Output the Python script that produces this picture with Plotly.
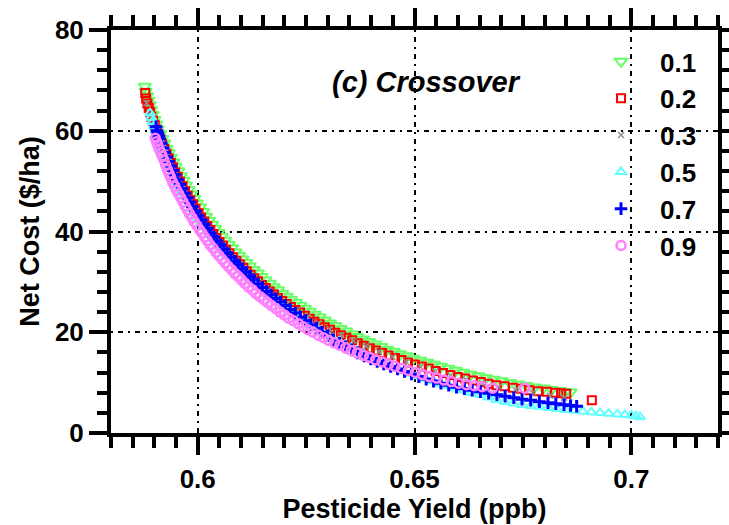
import plotly.graph_objects as go

# ---- data ----
series_names = ["0.1", "0.2", "0.3", "0.5", "0.7", "0.9"]

x_01 = [0.5878, 0.5880, 0.5883, 0.5886, 0.5889, 0.5892, 0.5896, 0.5900, 0.5904, 0.5908,
        0.5913, 0.5918, 0.5923, 0.5928, 0.5933, 0.5938, 0.5944, 0.5949, 0.5955, 0.5961,
        0.5967, 0.5973, 0.5979, 0.5985, 0.5992, 0.5998, 0.6005, 0.6012, 0.6019, 0.6026,
        0.6033, 0.6040, 0.6048, 0.6055, 0.6063, 0.6071, 0.6079, 0.6087, 0.6095, 0.6103,
        0.6112, 0.6120, 0.6129, 0.6138, 0.6147, 0.6156, 0.6166, 0.6175, 0.6185, 0.6195,
        0.6205, 0.6215, 0.6226, 0.6236, 0.6247, 0.6258, 0.6270, 0.6281, 0.6293, 0.6305,
        0.6317, 0.6329, 0.6342, 0.6355, 0.6368, 0.6381, 0.6395, 0.6409, 0.6423, 0.6437,
        0.6452, 0.6467, 0.6482, 0.6497, 0.6513, 0.6529, 0.6545, 0.6561, 0.6578, 0.6595,
        0.6612, 0.6629, 0.6647, 0.6665, 0.6683, 0.6701, 0.6720, 0.6739, 0.6758, 0.6777,
        0.6797, 0.6816, 0.6836, 0.6848, 0.6860]
y_01 = [68.8, 67.8, 66.9, 66.0, 65.1, 64.1, 63.2, 62.2, 61.3, 60.3,
        59.4, 58.4, 57.5, 56.5, 55.6, 54.7, 53.8, 52.9, 52.0, 51.0,
        50.1, 49.2, 48.3, 47.4, 46.5, 45.6, 44.8, 43.9, 43.0, 42.2,
        41.4, 40.6, 39.8, 39.0, 38.2, 37.4, 36.7, 35.9, 35.2, 34.5,
        33.8, 33.1, 32.4, 31.7, 31.0, 30.3, 29.7, 29.0, 28.4, 27.7,
        27.1, 26.5, 25.9, 25.3, 24.7, 24.1, 23.5, 23.0, 22.4, 21.8,
        21.3, 20.7, 20.2, 19.6, 19.1, 18.6, 18.1, 17.6, 17.1, 16.6,
        16.2, 15.7, 15.3, 14.8, 14.4, 14.0, 13.6, 13.2, 12.8, 12.4,
        12.0, 11.6, 11.3, 10.9, 10.6, 10.3, 10.0, 9.7, 9.4, 9.1,
        8.9, 8.6, 8.4, 8.2, 8.1]

x_02 = [0.5879, 0.5881, 0.5884, 0.5887, 0.5890, 0.5893, 0.5897, 0.5901, 0.5905, 0.5909,
        0.5914, 0.5918, 0.5923, 0.5928, 0.5933, 0.5938, 0.5943, 0.5948, 0.5954, 0.5959,
        0.5965, 0.5971, 0.5977, 0.5983, 0.5989, 0.5995, 0.6002, 0.6008, 0.6015, 0.6022,
        0.6029, 0.6036, 0.6043, 0.6050, 0.6058, 0.6065, 0.6073, 0.6081, 0.6089, 0.6097,
        0.6105, 0.6113, 0.6122, 0.6130, 0.6139, 0.6148, 0.6157, 0.6166, 0.6176, 0.6185,
        0.6195, 0.6205, 0.6215, 0.6225, 0.6236, 0.6247, 0.6258, 0.6269, 0.6281, 0.6293,
        0.6305, 0.6317, 0.6330, 0.6343, 0.6356, 0.6369, 0.6383, 0.6397, 0.6411, 0.6425,
        0.6440, 0.6455, 0.6470, 0.6485, 0.6501, 0.6517, 0.6533, 0.6549, 0.6566, 0.6583,
        0.6600, 0.6617, 0.6635, 0.6653, 0.6671, 0.6689, 0.6708, 0.6727, 0.6746, 0.6765,
        0.6785, 0.6805, 0.6825, 0.6838, 0.6850, 0.6909]
y_02 = [67.5, 66.4, 65.4, 64.5, 63.7, 62.8, 62.0, 61.1, 60.2, 59.2,
        58.3, 57.3, 56.4, 55.4, 54.5, 53.6, 52.7, 51.7, 50.8, 49.9,
        49.0, 48.0, 47.1, 46.2, 45.4, 44.5, 43.6, 42.8, 42.0, 41.1,
        40.3, 39.5, 38.7, 37.9, 37.2, 36.4, 35.7, 34.9, 34.2, 33.5,
        32.8, 32.1, 31.4, 30.7, 30.1, 29.4, 28.8, 28.1, 27.5, 26.8,
        26.2, 25.6, 25.0, 24.4, 23.9, 23.3, 22.7, 22.1, 21.6, 21.0,
        20.5, 19.9, 19.4, 18.9, 18.4, 17.8, 17.3, 16.8, 16.4, 15.9,
        15.4, 14.9, 14.5, 14.0, 13.6, 13.2, 12.8, 12.3, 11.9, 11.5,
        11.1, 10.8, 10.4, 10.1, 9.8, 9.5, 9.3, 9.0, 8.8, 8.5,
        8.3, 8.2, 8.0, 7.9, 7.8, 6.5]

x_03 = [0.5882, 0.5889, 0.5896, 0.5904, 0.5913, 0.5923, 0.5933, 0.5944, 0.5956, 0.5968,
        0.5981, 0.5995, 0.6009, 0.6024, 0.6039, 0.6055, 0.6071, 0.6088, 0.6106, 0.6124,
        0.6143, 0.6163, 0.6184, 0.6206, 0.6229, 0.6253, 0.6278, 0.6304, 0.6331, 0.6359,
        0.6388, 0.6418, 0.6449, 0.6481, 0.6514, 0.6548, 0.6583, 0.6619, 0.6656, 0.6694,
        0.6733, 0.6772, 0.6812, 0.6845]
y_03 = [65.5, 63.2, 61.2, 59.1, 57.1, 55.1, 53.2, 51.3, 49.4, 47.6,
        45.8, 44.0, 42.2, 40.5, 38.8, 37.1, 35.6, 34.1, 32.6, 31.1,
        29.7, 28.3, 26.9, 25.6, 24.3, 23.0, 21.8, 20.6, 19.4, 18.3,
        17.2, 16.1, 15.1, 14.1, 13.1, 12.2, 11.4, 10.6, 9.9, 9.2,
        8.6, 8.0, 7.4, 7.0]

x_05 = [0.5890, 0.5893, 0.5896, 0.5899, 0.5903, 0.5907, 0.5911, 0.5915, 0.5919, 0.5923,
        0.5928, 0.5932, 0.5937, 0.5942, 0.5947, 0.5952, 0.5958, 0.5963, 0.5969, 0.5975,
        0.5981, 0.5987, 0.5994, 0.6000, 0.6007, 0.6014, 0.6021, 0.6028, 0.6036, 0.6043,
        0.6051, 0.6059, 0.6067, 0.6075, 0.6084, 0.6092, 0.6101, 0.6110, 0.6119, 0.6128,
        0.6138, 0.6148, 0.6158, 0.6168, 0.6179, 0.6190, 0.6201, 0.6212, 0.6224, 0.6236,
        0.6248, 0.6260, 0.6273, 0.6286, 0.6299, 0.6312, 0.6326, 0.6340, 0.6354, 0.6368,
        0.6383, 0.6398, 0.6413, 0.6428, 0.6444, 0.6460, 0.6476, 0.6492, 0.6509, 0.6526,
        0.6543, 0.6560, 0.6578, 0.6596, 0.6614, 0.6632, 0.6651, 0.6670, 0.6689, 0.6708,
        0.6728, 0.6748, 0.6768, 0.6788, 0.6808, 0.6828, 0.6848, 0.6868, 0.6888, 0.6908,
        0.6928, 0.6948, 0.6968, 0.6985, 0.7000, 0.7010, 0.7020]
y_05 = [63.5, 62.6, 61.8, 60.9, 60.0, 59.0, 58.1, 57.2, 56.3, 55.3,
        54.4, 53.5, 52.6, 51.7, 50.8, 49.9, 49.0, 48.1, 47.2, 46.3,
        45.4, 44.5, 43.6, 42.7, 41.9, 41.0, 40.2, 39.3, 38.5, 37.7,
        36.9, 36.1, 35.3, 34.5, 33.7, 33.0, 32.2, 31.5, 30.7, 30.0,
        29.2, 28.5, 27.7, 27.0, 26.3, 25.6, 24.9, 24.2, 23.5, 22.8,
        22.1, 21.4, 20.8, 20.1, 19.5, 18.8, 18.2, 17.5, 16.9, 16.3,
        15.7, 15.1, 14.5, 14.0, 13.4, 12.9, 12.3, 11.8, 11.3, 10.8,
        10.3, 9.8, 9.4, 8.9, 8.5, 8.0, 7.6, 7.1, 6.6, 6.2,
        5.9, 5.6, 5.4, 5.2, 5.0, 4.8, 4.6, 4.45, 4.3, 4.15,
        4.0, 3.85, 3.7, 3.6, 3.5, 3.35, 3.2]

x_07 = [0.5904, 0.5906, 0.5908, 0.5910, 0.5912, 0.5916, 0.5920, 0.5924, 0.5929, 0.5933,
        0.5938, 0.5943, 0.5948, 0.5953, 0.5959, 0.5964, 0.5970, 0.5976, 0.5982, 0.5988,
        0.5995, 0.6001, 0.6008, 0.6015, 0.6022, 0.6029, 0.6037, 0.6044, 0.6052, 0.6060,
        0.6068, 0.6076, 0.6085, 0.6093, 0.6102, 0.6111, 0.6120, 0.6129, 0.6139, 0.6149,
        0.6159, 0.6169, 0.6180, 0.6191, 0.6202, 0.6213, 0.6225, 0.6237, 0.6249, 0.6261,
        0.6274, 0.6287, 0.6300, 0.6313, 0.6327, 0.6341, 0.6355, 0.6369, 0.6384, 0.6399,
        0.6414, 0.6429, 0.6445, 0.6461, 0.6477, 0.6493, 0.6510, 0.6527, 0.6544, 0.6561,
        0.6579, 0.6597, 0.6615, 0.6633, 0.6652, 0.6671, 0.6690, 0.6709, 0.6729, 0.6748,
        0.6768, 0.6788, 0.6808, 0.6826, 0.6845, 0.6860, 0.6874]
y_07 = [60.8, 60.0, 59.5, 58.9, 58.4, 57.5, 56.6, 55.7, 54.8, 53.9,
        53.0, 52.1, 51.2, 50.3, 49.4, 48.5, 47.6, 46.7, 45.8, 44.9,
        44.0, 43.1, 42.3, 41.4, 40.6, 39.7, 38.9, 38.1, 37.3, 36.5,
        35.7, 34.9, 34.1, 33.4, 32.6, 31.9, 31.1, 30.4, 29.6, 28.9,
        28.1, 27.4, 26.7, 26.0, 25.3, 24.5, 23.8, 23.0, 22.3, 21.5,
        20.8, 20.0, 19.3, 18.5, 17.8, 17.1, 16.5, 15.9, 15.3, 14.7,
        14.2, 13.7, 13.2, 12.7, 12.2, 11.7, 11.2, 10.7, 10.3, 9.9,
        9.5, 9.1, 8.8, 8.5, 8.2, 7.9, 7.6, 7.3, 7.0, 6.7,
        6.5, 6.2, 6.0, 5.8, 5.6, 5.45, 5.3]

x_09 = [0.5902, 0.5905, 0.5908, 0.5911, 0.5915, 0.5918, 0.5922, 0.5926, 0.5930, 0.5934,
        0.5938, 0.5942, 0.5947, 0.5951, 0.5956, 0.5961, 0.5966, 0.5971, 0.5976, 0.5981,
        0.5987, 0.5992, 0.5998, 0.6004, 0.6010, 0.6016, 0.6022, 0.6028, 0.6035, 0.6042,
        0.6049, 0.6056, 0.6063, 0.6070, 0.6078, 0.6085, 0.6093, 0.6101, 0.6109, 0.6117,
        0.6126, 0.6134, 0.6143, 0.6152, 0.6161, 0.6170, 0.6180, 0.6190, 0.6200, 0.6210,
        0.6221, 0.6232, 0.6243, 0.6254, 0.6266, 0.6278, 0.6290, 0.6302, 0.6315, 0.6328,
        0.6341, 0.6354, 0.6368, 0.6382, 0.6396, 0.6410, 0.6425, 0.6440, 0.6455, 0.6470,
        0.6486, 0.6502, 0.6518, 0.6534, 0.6551, 0.6568, 0.6585, 0.6602, 0.6620, 0.6638,
        0.6656, 0.6680, 0.6754]
y_09 = [58.5, 57.8, 57.2, 56.4, 55.7, 55.0, 54.2, 53.2, 52.3, 51.5,
        50.7, 49.8, 49.0, 48.2, 47.5, 46.7, 45.9, 45.1, 44.3, 43.5,
        42.7, 41.9, 41.2, 40.4, 39.7, 38.9, 38.2, 37.4, 36.7, 35.9,
        35.2, 34.5, 33.8, 33.1, 32.4, 31.7, 31.1, 30.4, 29.7, 29.0,
        28.4, 27.7, 27.1, 26.5, 25.9, 25.3, 24.7, 24.0, 23.4, 22.8,
        22.3, 21.7, 21.1, 20.5, 20.0, 19.4, 18.9, 18.4, 17.9, 17.4,
        16.9, 16.4, 15.9, 15.4, 15.0, 14.5, 14.1, 13.6, 13.2, 12.8,
        12.4, 12.0, 11.6, 11.2, 10.9, 10.5, 10.2, 9.9, 9.6, 9.4,
        9.2, 8.9, 8.9]

x_ticks = [0.6, 0.65, 0.7]
y_ticks = [0, 20, 40, 60, 80]

xs = [x_01, x_02, x_03, x_05, x_07, x_09]
ys = [y_01, y_02, y_03, y_05, y_07, y_09]

styles = [
    dict(symbol="triangle-down-open", color="#66ff66", size=11, line=dict(width=2)),
    dict(symbol="square-open", color="#ff0000", size=8, line=dict(width=2)),
    dict(symbol="x-thin", color="#909090", size=6, line=dict(width=1.5, color="#909090")),
    dict(symbol="triangle-up-open", color="#66ffff", size=9, line=dict(width=2)),
    dict(symbol="cross-thin", color="#0000ff", size=9, line=dict(width=3, color="#0000ff")),
    dict(symbol="circle-open", color="#ff80ff", size=9, line=dict(width=2.5)),
]

FONT = "Liberation Sans, Arial, sans-serif"

fig = go.Figure()
for name, xv, yv, st in zip(series_names, xs, ys, styles):
    fig.add_trace(go.Scatter(x=xv, y=yv, mode="markers", name=name, marker=st))

axis_common = dict(
    showline=True, linecolor="black", linewidth=4, mirror="allticks",
    ticks="outside", tickcolor="black", tickwidth=3.5, ticklen=18,
    showgrid=True, gridcolor="black", gridwidth=2, griddash="2px,5px,5px,5px",
    zeroline=False, automargin=False,
    tickfont=dict(family=FONT, size=26, color="black", weight="bold"),
)

fig.update_xaxes(
    range=[0.58, 0.72], tickmode="array", tickvals=x_ticks,
    ticktext=[str(v) for v in x_ticks], ticklabelstandoff=2,
    minor=dict(dtick=0.005, tick0=0.58, ticks="outside", ticklen=11, tickwidth=3.5,
               tickcolor="black", showgrid=False),
    title=dict(text="Pesticide Yield (ppb)", standoff=6,
               font=dict(family=FONT, size=27, color="black", weight="bold")),
    **axis_common,
)
fig.update_yaxes(
    range=[0, 80], tickmode="array", tickvals=y_ticks,
    minor=dict(dtick=4, tick0=0, ticks="outside", ticklen=10, tickwidth=3.5,
               tickcolor="black", showgrid=False),
    title=dict(text="Net Cost ($/ha)", standoff=8,
               font=dict(family=FONT, size=27, color="black", weight="bold")),
    **axis_common,
)

fig.add_annotation(
    x=0.519, y=0.871, xref="paper", yref="paper", showarrow=False,
    xanchor="center", yanchor="middle",
    text="<b><i>(c) Crossover</i></b>",
    font=dict(family=FONT, size=29, color="black"),
)

fig.update_layout(
    width=729, height=525,
    margin=dict(l=111, r=11, t=30, b=92),
    paper_bgcolor="white", plot_bgcolor="white",
    showlegend=True,
    legend=dict(x=0.776, y=0.98, xanchor="left", yanchor="top",
                bgcolor="rgba(0,0,0,0)", borderwidth=0,
                font=dict(family=FONT, size=26, color="black", weight="bold"),
                itemwidth=68, tracegroupgap=0),
)

fig.write_html("out.html")
